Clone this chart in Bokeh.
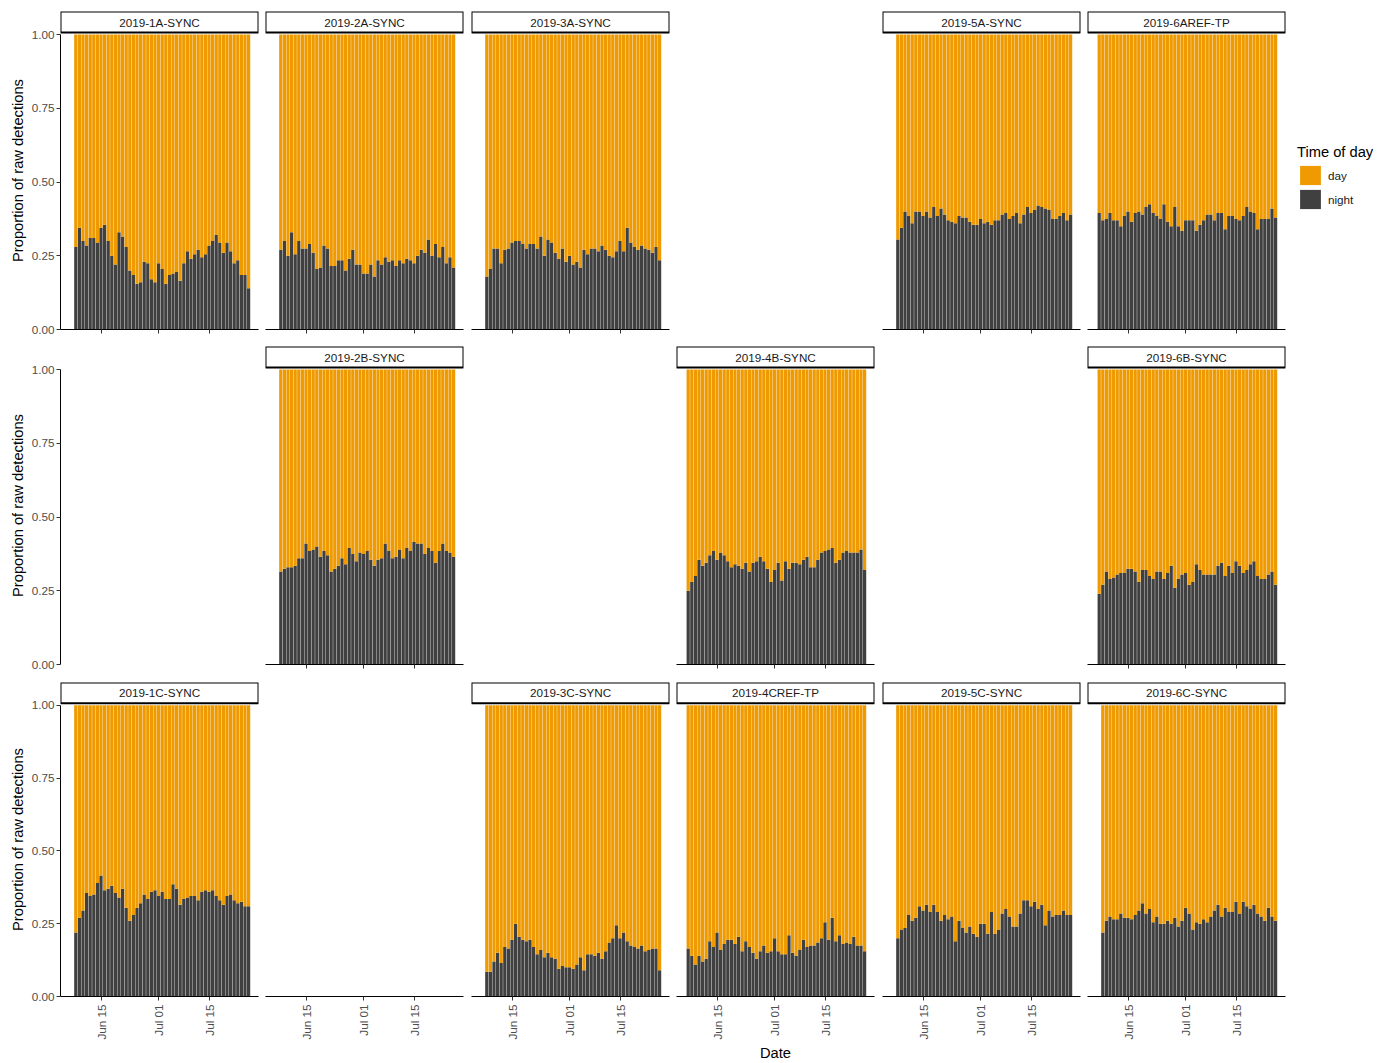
import math
import pandas as pd
from bokeh.plotting import figure
from bokeh.layouts import row, column
from bokeh.models import (ColumnDataSource, Range1d, FixedTicker, PrintfTickFormatter,
                          Label, Legend, LegendItem, Spacer, BoxAnnotation,
                          CustomJSTickFormatter)
from bokeh.embed import file_html
from bokeh.resources import INLINE

# ------------------------------------------------------------------ data
tod_levels = ["day", "night"]
date_ticks = ["2019-06-15", "2019-07-01", "2019-07-15"]
date_tick_labels = ["Jun 15", "Jul 01", "Jul 15"]
y_ticks = [0.0, 0.25, 0.5, 0.75, 1.0]
x_limits = ["2019-06-03 18:00", "2019-07-28 18:00"]

start_1A = "2019-06-08"
night_1A = [0.28, 0.345, 0.30, 0.285, 0.31, 0.31, 0.295, 0.345, 0.355, 0.30,
            0.25, 0.22, 0.33, 0.315, 0.28, 0.20, 0.185, 0.155, 0.16, 0.23,
            0.225, 0.17, 0.16, 0.225, 0.205, 0.155, 0.185, 0.19, 0.195, 0.165,
            0.225, 0.265, 0.24, 0.255, 0.27, 0.245, 0.255, 0.285, 0.30, 0.32,
            0.295, 0.26, 0.295, 0.265, 0.225, 0.235, 0.185, 0.185, 0.14]
start_2A = "2019-06-08"
night_2A = [0.27, 0.30, 0.25, 0.33, 0.255, 0.30, 0.275, 0.275, 0.29, 0.26,
            0.205, 0.21, 0.285, 0.275, 0.215, 0.215, 0.235, 0.235, 0.20, 0.24,
            0.27, 0.22, 0.22, 0.19, 0.19, 0.22, 0.18, 0.235, 0.22, 0.245,
            0.23, 0.235, 0.215, 0.235, 0.225, 0.24, 0.235, 0.225, 0.25, 0.27,
            0.26, 0.305, 0.25, 0.29, 0.245, 0.28, 0.225, 0.245, 0.21]
start_3A = "2019-06-08"
night_3A = [0.18, 0.205, 0.275, 0.275, 0.225, 0.27, 0.275, 0.295, 0.30, 0.30,
            0.29, 0.275, 0.29, 0.29, 0.275, 0.315, 0.25, 0.305, 0.295, 0.26,
            0.24, 0.275, 0.23, 0.25, 0.22, 0.23, 0.21, 0.27, 0.255, 0.275,
            0.275, 0.265, 0.285, 0.27, 0.25, 0.245, 0.265, 0.30, 0.265, 0.345,
            0.295, 0.28, 0.27, 0.285, 0.275, 0.27, 0.26, 0.28, 0.235]
start_5A = "2019-06-08"
night_5A = [0.305, 0.345, 0.40, 0.385, 0.36, 0.40, 0.40, 0.385, 0.40, 0.38,
            0.415, 0.385, 0.41, 0.39, 0.37, 0.365, 0.36, 0.385, 0.38, 0.38,
            0.365, 0.355, 0.355, 0.375, 0.36, 0.365, 0.355, 0.37, 0.37, 0.39,
            0.395, 0.375, 0.385, 0.395, 0.36, 0.39, 0.415, 0.395, 0.405, 0.42,
            0.415, 0.41, 0.405, 0.375, 0.375, 0.385, 0.395, 0.37, 0.39]
start_6A = "2019-06-07"
night_6A = [0.395, 0.37, 0.375, 0.395, 0.37, 0.37, 0.35, 0.385, 0.40, 0.365,
            0.395, 0.40, 0.39, 0.415, 0.425, 0.395, 0.385, 0.375, 0.425, 0.365,
            0.35, 0.415, 0.35, 0.335, 0.37, 0.37, 0.37, 0.335, 0.355, 0.37,
            0.39, 0.39, 0.37, 0.395, 0.395, 0.34, 0.385, 0.385, 0.375, 0.37,
            0.385, 0.415, 0.40, 0.395, 0.34, 0.375, 0.375, 0.375, 0.41, 0.38]
start_2B = "2019-06-08"
night_2B = [0.315, 0.325, 0.33, 0.33, 0.335, 0.36, 0.36, 0.41, 0.385, 0.39,
            0.40, 0.365, 0.385, 0.37, 0.315, 0.325, 0.335, 0.36, 0.34, 0.395,
            0.375, 0.35, 0.38, 0.375, 0.385, 0.355, 0.335, 0.355, 0.36, 0.41,
            0.385, 0.36, 0.365, 0.39, 0.36, 0.395, 0.385, 0.415, 0.41, 0.41,
            0.375, 0.395, 0.385, 0.345, 0.385, 0.41, 0.385, 0.38, 0.365]
start_4B = "2019-06-07"
night_4B = [0.25, 0.28, 0.30, 0.355, 0.335, 0.345, 0.37, 0.385, 0.355, 0.38,
            0.37, 0.35, 0.33, 0.34, 0.335, 0.325, 0.345, 0.315, 0.345, 0.35,
            0.365, 0.35, 0.325, 0.28, 0.32, 0.345, 0.285, 0.35, 0.325, 0.345,
            0.345, 0.34, 0.355, 0.365, 0.33, 0.33, 0.355, 0.38, 0.385, 0.39,
            0.395, 0.345, 0.355, 0.38, 0.385, 0.38, 0.38, 0.38, 0.39, 0.32]
start_6B = "2019-06-07"
night_6B = [0.24, 0.27, 0.315, 0.29, 0.295, 0.305, 0.31, 0.31, 0.325, 0.325,
            0.315, 0.28, 0.32, 0.32, 0.30, 0.29, 0.315, 0.315, 0.29, 0.31,
            0.335, 0.26, 0.29, 0.305, 0.31, 0.27, 0.28, 0.34, 0.32, 0.305,
            0.305, 0.305, 0.305, 0.335, 0.345, 0.30, 0.335, 0.31, 0.35, 0.335,
            0.31, 0.32, 0.34, 0.35, 0.30, 0.29, 0.29, 0.305, 0.315, 0.27]
start_1C = "2019-06-08"
night_1C = [0.22, 0.27, 0.295, 0.355, 0.345, 0.35, 0.39, 0.415, 0.365, 0.37,
            0.38, 0.355, 0.34, 0.37, 0.305, 0.26, 0.28, 0.305, 0.32, 0.35,
            0.335, 0.36, 0.365, 0.345, 0.36, 0.335, 0.335, 0.385, 0.37, 0.315,
            0.335, 0.34, 0.345, 0.345, 0.33, 0.36, 0.365, 0.36, 0.365, 0.345,
            0.33, 0.315, 0.345, 0.35, 0.33, 0.32, 0.325, 0.31, 0.31]
start_3C = "2019-06-08"
night_3C = [0.085, 0.085, 0.12, 0.15, 0.115, 0.17, 0.165, 0.195, 0.25, 0.205,
            0.195, 0.19, 0.195, 0.17, 0.145, 0.16, 0.135, 0.15, 0.135, 0.13,
            0.095, 0.105, 0.10, 0.10, 0.095, 0.11, 0.135, 0.09, 0.145, 0.145,
            0.14, 0.15, 0.13, 0.155, 0.185, 0.20, 0.245, 0.20, 0.22, 0.19,
            0.175, 0.17, 0.165, 0.175, 0.155, 0.16, 0.165, 0.165, 0.09]
start_4C = "2019-06-07"
night_4C = [0.165, 0.14, 0.11, 0.14, 0.12, 0.13, 0.19, 0.17, 0.22, 0.16,
            0.18, 0.195, 0.195, 0.18, 0.205, 0.155, 0.19, 0.17, 0.15, 0.13,
            0.155, 0.175, 0.15, 0.155, 0.20, 0.155, 0.145, 0.145, 0.21, 0.15,
            0.14, 0.16, 0.195, 0.17, 0.175, 0.175, 0.185, 0.20, 0.255, 0.195,
            0.27, 0.19, 0.21, 0.18, 0.185, 0.18, 0.205, 0.175, 0.175, 0.155]
start_5C = "2019-06-08"
night_5C = [0.20, 0.23, 0.235, 0.28, 0.26, 0.27, 0.31, 0.295, 0.315, 0.29,
            0.315, 0.29, 0.26, 0.28, 0.265, 0.275, 0.19, 0.26, 0.235, 0.22,
            0.24, 0.215, 0.205, 0.25, 0.25, 0.215, 0.29, 0.215, 0.23, 0.285,
            0.30, 0.275, 0.24, 0.24, 0.285, 0.33, 0.33, 0.31, 0.325, 0.30,
            0.315, 0.245, 0.295, 0.275, 0.28, 0.28, 0.295, 0.28, 0.28]
start_6C = "2019-06-08"
night_6C = [0.22, 0.26, 0.275, 0.265, 0.265, 0.285, 0.27, 0.27, 0.265, 0.28,
            0.295, 0.32, 0.285, 0.30, 0.255, 0.275, 0.25, 0.25, 0.26, 0.25,
            0.27, 0.24, 0.26, 0.305, 0.285, 0.23, 0.255, 0.25, 0.265, 0.255,
            0.275, 0.295, 0.315, 0.275, 0.305, 0.29, 0.29, 0.325, 0.285, 0.325,
            0.31, 0.30, 0.315, 0.285, 0.275, 0.26, 0.305, 0.275, 0.26]

# ------------------------------------------------------------------ style
FONT = "Liberation Sans"
DAY_COLOR = "#EE9A00"
NIGHT_COLOR = "#404040"
TICK_TXT = "#4D4D4D"

FRAME_W = 198
FRAME_H = 318           # strip + panel
UNIT_H = 295            # pixels of y from 0 to 1
Y_END = FRAME_H / UNIT_H
STRIP_BOTTOM = 1 + 2 / UNIT_H
LEFT = [60, 4, 4, 4, 4, 4]
RIGHT = [3, 4, 3, 4, 3, 3]
ROW_TOP = [11, 1, 1]
ROW_H = [345, 336, 382]
LEGEND_W = 100


def ms(s):
    return pd.Timestamp(s).value / 1e6


X_START, X_END = ms(x_limits[0]), ms(x_limits[1])
tick_ms = [ms(d) for d in date_ticks]
DAY_MS = 86400000.0


def base_fig(r, c, xaxis=True, yaxis=False):
    p = figure(width=LEFT[c] + FRAME_W + RIGHT[c], height=ROW_H[r],
               x_range=Range1d(X_START, X_END), y_range=Range1d(0, Y_END),
               x_axis_type="datetime",
               x_axis_location="below" if xaxis else None,
               y_axis_location="left" if yaxis else None,
               min_border_left=LEFT[c], min_border_right=RIGHT[c],
               min_border_top=ROW_TOP[r],
               min_border_bottom=ROW_H[r] - ROW_TOP[r] - FRAME_H,
               output_backend="svg", toolbar_location=None, title=None)
    p.grid.visible = False
    p.outline_line_color = None
    p.background_fill_color = "white"
    p.border_fill_color = "white"
    if xaxis:
        ax = p.xaxis[0]
        ax.ticker = FixedTicker(ticks=tick_ms)
        ax.major_tick_out = 4
        ax.major_tick_in = 0
        ax.minor_tick_line_color = None
        ax.axis_line_color = "black"
        ax.axis_line_width = 1
        ax.major_tick_line_color = "#333333"
        ax.major_label_orientation = math.pi / 2
        ax.major_label_text_font = FONT
        ax.major_label_text_font_size = "11.7px"
        if r == 2:
            ax.formatter = CustomJSTickFormatter(
                args=dict(tvals=tick_ms, tlabels=date_tick_labels),
                code="const i = tvals.indexOf(tick); return i >= 0 ? tlabels[i] : '';")
            ax.major_label_standoff = 4
            ax.major_label_text_color = TICK_TXT
        else:
            ax.formatter = CustomJSTickFormatter(code="return '';")
            ax.major_label_standoff = 0
            ax.major_label_text_color = None
    if yaxis:
        ay = p.yaxis[0]
        ay.ticker = FixedTicker(ticks=y_ticks)
        ay.formatter = PrintfTickFormatter(format="%.2f")
        ay.bounds = (0, 1)
        ay.major_label_text_font = FONT
        ay.major_label_text_font_size = "11.7px"
        ay.major_label_text_color = TICK_TXT
        ay.major_label_standoff = 2
        ay.major_tick_out = 4
        ay.major_tick_in = 0
        ay.minor_tick_line_color = None
        ay.axis_line_color = "black"
        ay.axis_line_width = 1
        ay.major_tick_line_color = "#333333"
        ay.axis_label = "Proportion of raw detections"
        ay.axis_label_text_font = FONT
        ay.axis_label_text_font_size = "14.7px"
        ay.axis_label_text_font_style = "normal"
        ay.axis_label_text_color = "black"
        ay.axis_label_standoff = 3
    return p


def panel(r, c, name, start, night):
    p = base_fig(r, c, xaxis=True, yaxis=(c == 0))
    dates = pd.date_range(start, periods=len(night), freq="D")
    day = [round(1 - v, 4) for v in night]
    src = ColumnDataSource(dict(date=dates, night=night, day=day))
    p.vbar_stack(["night", "day"], x="date", width=0.9 * DAY_MS,
                 fill_color=[NIGHT_COLOR, DAY_COLOR], line_color=None, source=src)
    strip = BoxAnnotation(left=X_START, right=X_END, bottom=STRIP_BOTTOM, top=Y_END,
                          fill_color="white", fill_alpha=1.0,
                          line_color="black", line_width=2, line_alpha=1.0)
    p.add_layout(strip)
    p.add_layout(Label(x=(X_START + X_END) / 2, y=(Y_END + STRIP_BOTTOM) / 2,
                       text=name, text_align="center", text_baseline="middle",
                       text_font=FONT, text_font_size="11.7px", text_color="#1A1A1A"))
    return p, src


def spacer(r, c):
    return Spacer(width=LEFT[c] + FRAME_W + RIGHT[c], height=ROW_H[r])


# ------------------------------------------------------------------ grid
p1a, _ = panel(0, 0, "2019-1A-SYNC", start_1A, night_1A)
p2a, _ = panel(0, 1, "2019-2A-SYNC", start_2A, night_2A)
p3a, _ = panel(0, 2, "2019-3A-SYNC", start_3A, night_3A)
p5a, _ = panel(0, 4, "2019-5A-SYNC", start_5A, night_5A)
p6a, src6a = panel(0, 5, "2019-6AREF-TP", start_6A, night_6A)

# legend panel: its own small figure; the keys are the 6A bars (outside its view)
lf = figure(width=LEGEND_W, height=ROW_H[0], x_range=Range1d(0, 1), y_range=Range1d(0, 1),
            x_axis_location=None, y_axis_location=None,
            min_border_left=0, min_border_right=0, min_border_top=0, min_border_bottom=0,
            output_backend="svg", toolbar_location=None, title=None)
lf.grid.visible = False
lf.outline_line_color = None
lf.background_fill_color = "white"
lf.border_fill_color = "white"
lr = lf.vbar_stack(["night", "day"], x="date", width=0.9 * DAY_MS,
                   fill_color=[NIGHT_COLOR, DAY_COLOR], line_color=None, source=src6a)
legend = Legend(items=[LegendItem(label=tod_levels[0], renderers=[lr[1]]),
                       LegendItem(label=tod_levels[1], renderers=[lr[0]])],
                title="Time of day", location=(9, 118),
                glyph_width=26, glyph_height=24, spacing=0, label_standoff=5,
                padding=0, margin=0, border_line_color=None, background_fill_alpha=0,
                label_text_font=FONT, label_text_font_size="11.7px",
                label_text_color="#1A1A1A",
                title_text_font=FONT, title_text_font_size="14.7px",
                title_text_font_style="normal", title_text_color="black",
                title_standoff=3)
lf.add_layout(legend)

row1 = row(p1a, p2a, p3a, spacer(0, 3), p5a, p6a, lf)

yonly = base_fig(1, 0, xaxis=False, yaxis=True)
p2b, _ = panel(1, 1, "2019-2B-SYNC", start_2B, night_2B)
p4b, _ = panel(1, 3, "2019-4B-SYNC", start_4B, night_4B)
p6b, _ = panel(1, 5, "2019-6B-SYNC", start_6B, night_6B)
row2 = row(yonly, p2b, spacer(1, 2), p4b, spacer(1, 4), p6b)

p1c, _ = panel(2, 0, "2019-1C-SYNC", start_1C, night_1C)
xonly = base_fig(2, 1, xaxis=True, yaxis=False)
p3c, _ = panel(2, 2, "2019-3C-SYNC", start_3C, night_3C)
p4c, _ = panel(2, 3, "2019-4CREF-TP", start_4C, night_4C)
ax4 = p4c.xaxis[0]
ax4.axis_label = "Date"
ax4.axis_label_text_font = FONT
ax4.axis_label_text_font_size = "14.7px"
ax4.axis_label_text_font_style = "normal"
ax4.axis_label_text_color = "black"
ax4.axis_label_standoff = 2
p5c, _ = panel(2, 4, "2019-5C-SYNC", start_5C, night_5C)
p6c, _ = panel(2, 5, "2019-6C-SYNC", start_6C, night_6C)
row3 = row(p1c, xonly, p3c, p4c, p5c, p6c)

layout = column(row1, row2, row3)

open("out.html", "w").write(file_html(layout, INLINE, title="Proportion of raw detections"))
